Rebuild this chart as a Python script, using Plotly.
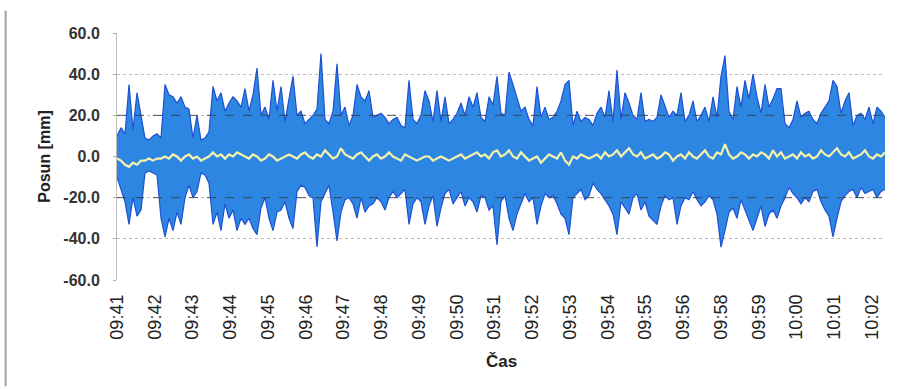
import plotly.graph_objects as go

# Time axis labels (category-like, evenly spaced)
tick_labels = ["09:41", "09:42", "09:43", "09:44", "09:45", "09:46", "09:47",
               "09:48", "09:49", "09:50", "09:51", "09:52", "09:53", "09:54",
               "09:55", "09:56", "09:58", "09:59", "10:00", "10:01", "10:02"]

# Sampling interval in label units (one label step = 1)
sample_step = 4 / 37.75

# Upper envelope of the blue displacement signal [mm]
blue_upper = [
    10, 14, 11, 35, 13, 31, 20, 9, 8, 10, 11, 9, 35, 30, 29, 26, 29, 24, 23, 9,
    20, 8, 9, 12, 34, 27, 31, 22, 26, 29, 27, 24,
    33, 22, 30, 43, 20, 24, 18, 37, 22, 34, 17, 28, 39, 20, 22, 16, 18, 20,
    23, 50, 18, 16, 22, 45, 20, 24, 15, 20, 35, 29, 27, 32, 19,
    20, 21, 19, 16, 18, 19, 15, 14, 37, 18, 16, 20, 32, 27, 17, 32, 17, 29,
    16, 18, 21, 26, 20, 29, 24, 31, 19, 17, 29, 25, 39, 21,
    20, 41, 35, 29, 22, 24, 18, 15, 34, 19, 24, 18, 19, 22, 27, 35, 37, 15,
    22, 17, 19, 18, 15, 21, 24, 19, 32, 17, 42, 18, 31, 26, 20,
    18, 31, 17, 18, 17, 19, 30, 25, 19, 22, 20, 31, 17, 20, 27, 17, 20, 24,
    17, 29, 19, 39, 49, 22, 18, 34, 24, 37, 28, 40, 29, 21,
    35, 24, 28, 33, 33, 16, 14, 18, 27, 19, 21, 22, 18, 16, 21, 24, 27, 37,
    34, 21, 27, 31, 15, 20, 21, 18, 24, 16, 24, 22, 19,
]

# Lower envelope of the blue displacement signal [mm]
blue_lower = [
    -10, -16, -22, -33, -20, -29, -26, -8, -7, -8, -9, -30, -39, -30, -36, -27,
    -33, -20, -14, -20, -17, -8, -9, -13, -33, -27, -36, -23, -30, -26, -36, -30,
    -33, -30, -35, -38, -25, -20, -30, -36, -27, -26, -22, -30, -35, -17, -14,
    -15, -19, -20, -44, -22, -18, -14, -27, -41, -27, -21, -20, -23, -30, -20,
    -27, -24, -23,
    -20, -22, -26, -20, -17, -20, -18, -16, -33, -23, -20, -22, -33, -24, -19,
    -34, -25, -18, -16, -23, -20, -17, -24, -20, -22, -27, -19, -20, -26, -24,
    -43, -22,
    -19, -30, -36, -28, -23, -18, -22, -20, -33, -24, -18, -20, -19, -23, -28,
    -30, -38, -20, -18, -16, -21, -19, -13, -16, -18, -21, -24, -28, -38, -22,
    -25, -28, -20,
    -18, -26, -22, -29, -31, -33, -24, -19, -21, -20, -33, -24, -20, -21, -17,
    -21, -24, -22, -19, -21, -28, -44, -36, -27, -25, -30, -21, -26, -31, -36,
    -30, -24,
    -34, -28, -26, -30, -24, -20, -15, -18, -20, -23, -20, -22, -17, -16, -22,
    -26, -29, -39, -30, -22, -19, -17, -16, -20, -15, -18, -17, -16, -20, -17,
    -16,
]

# Yellow (smoothed) series [mm]
yellow = [
    -1, -2, -4, -5, -3, -4, -2, -2, -1, -2, -1, -1, 0, -1, 1, 0, -2, 0, 1, -1,
    0, -2, -1, 0, 2, 0, 1, -1, 1, 0, 2, 1,
    0, -1, 1, 0, -2, -1, 1, 0, -2, -1, 0, 1, 0, -1, 1, 2, 0, -1, 1, 0, 3, 1,
    -1, 0, 4, 1, 0, -1, 1, 2, 0, -2, 0,
    1, -1, 0, 2, 0, -1, -2, 1, 0, -1, -2, -1, 0, 0, -2, -1, 0, -1, -2, -1, 0,
    1, -1, 0, 1, 2, 0, 1, -1, 2, 3, 0,
    1, 3, 0, -1, 2, 0, -2, -1, 0, -3, -1, 1, 0, -1, 2, -2, -4, 0, -1, 1, 0,
    -1, 0, 1, -1, 2, 0, 1, 3, 0, 2, 4, 1,
    0, 2, -1, 0, 1, -1, 0, 2, 1, -2, 0, 1, -1, 2, 0, -1, 1, 3, 0, -1, 2, 1,
    6, 1, -1, 0, 2, 1, -1, 1, 0, 2,
    1, -1, 3, 0, 2, -1, 0, 1, -1, 2, 0, 1, -1, 0, 3, 1, 0, 2, 4, 1, 0, 2, -1,
    0, 1, 3, 0, -1, 1, 0, 2,
]

n = min(len(blue_upper), len(blue_lower), len(yellow))
t = [i * sample_step for i in range(n)]

fig = go.Figure()
fig.add_trace(go.Scatter(x=t, y=blue_lower[:n], mode="lines",
                         line=dict(color="rgb(30,80,212)", width=1.2),
                         showlegend=False, hoverinfo="skip"))
fig.add_trace(go.Scatter(x=t, y=blue_upper[:n], mode="lines",
                         line=dict(color="rgb(30,80,212)", width=1.2),
                         fill="tonexty", fillcolor="rgb(44,134,226)",
                         showlegend=False, hoverinfo="skip"))
fig.add_trace(go.Scatter(x=t, y=yellow[:n], mode="lines",
                         line=dict(color="rgb(246,242,170)", width=2.2),
                         showlegend=False, hoverinfo="skip"))

label_font = dict(family="Liberation Sans, Arial, sans-serif", color="#222")

fig.update_layout(
    width=900, height=389,
    margin=dict(l=117, r=15, t=33, b=109),
    paper_bgcolor="white", plot_bgcolor="white",
    font=label_font,
    xaxis=dict(
        range=[0, (n - 1) * sample_step],
        tickmode="array",
        tickvals=list(range(len(tick_labels))),
        ticktext=tick_labels,
        tickangle=-90,
        tickfont=dict(size=18, family="Liberation Sans, Arial, sans-serif", color="#222"),
        showgrid=False, zeroline=False,
        ticks="", showline=False,
        ticklabelstandoff=10,
    ),
    yaxis=dict(
        range=[-60, 60],
        tickmode="array",
        tickvals=[-60, -40, -20, 0, 20, 40, 60],
        ticktext=["-60.0", "-40.0", "-20.0", "0.0", "20.0", "40.0", "60.0"],
        tickfont=dict(size=16, weight="bold", family="Liberation Sans, Arial, sans-serif", color="#333"),
        showgrid=True, gridcolor="rgba(160,160,160,0.7)", griddash="dot", gridwidth=1,
        zeroline=False,
        ticks="outside", ticklen=3, tickcolor="#aaa",
        showline=True, linecolor="rgba(170,170,170,0.8)", linewidth=1,
        ticklabelstandoff=10,
        title=dict(text="<b>Posun [mm]</b>", font=dict(size=16), standoff=8),
    ),
    annotations=[
        dict(text="<b>Čas</b>", xref="paper", yref="paper", x=0.5, y=-0.328,
             xanchor="center", yanchor="middle", showarrow=False,
             font=dict(size=17, family="Liberation Sans, Arial, sans-serif", color="#222")),
    ],
    shapes=[
        dict(type="line", xref="paper", yref="y", x0=0, x1=1, y0=20, y1=20,
             line=dict(color="rgba(60,60,60,0.85)", width=1, dash="dash"), layer="above"),
        dict(type="line", xref="paper", yref="y", x0=0, x1=1, y0=-20, y1=-20,
             line=dict(color="rgba(60,60,60,0.85)", width=1, dash="dash"), layer="above"),
        dict(type="line", xref="paper", yref="paper", x0=-0.145, x1=-0.145, y0=-0.43, y1=1.09,
             line=dict(color="rgba(150,150,150,0.9)", width=2), layer="above"),
    ],
)

fig.write_html("out.html")
